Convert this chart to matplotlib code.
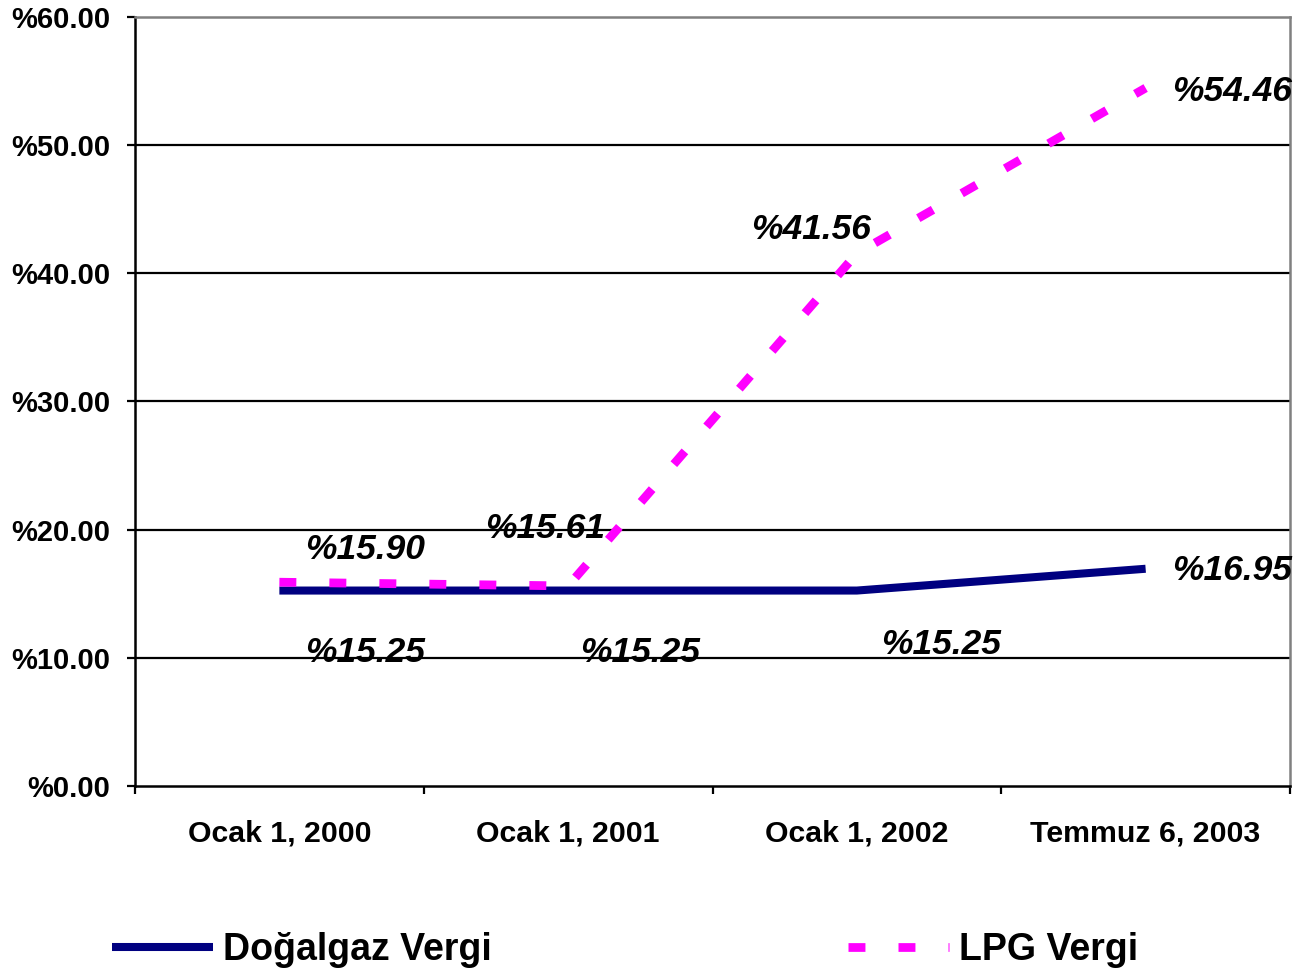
import matplotlib
matplotlib.use("Agg")
import matplotlib.pyplot as plt
from matplotlib.ticker import FixedLocator, NullFormatter, FixedFormatter

plt.rcParams['font.family'] = ['Liberation Sans', 'DejaVu Sans']
plt.rcParams['lines.scale_dashes'] = False

categories = ["Ocak 1, 2000", "Ocak 1, 2001", "Ocak 1, 2002", "Temmuz 6, 2003"]
dogalgaz = [15.25, 15.25, 15.25, 16.95]
lpg = [15.90, 15.61, 41.56, 54.46]
y_ticks = [0, 10, 20, 30, 40, 50, 60]
y_tick_labels = ["%0.00", "%10.00", "%20.00", "%30.00", "%40.00", "%50.00", "%60.00"]
series_names = ["Doğalgaz Vergi", "LPG Vergi"]

# label offsets in pixels (style only)
dog_offsets = [(86, -62), (72, -62), (84, -54), (86, -2)]
lpg_offsets = [(86, 33), (-23, 57), (-46, 24), (86, -3)]

DPI = 100
fig = plt.figure(figsize=(12.97, 9.71), dpi=DPI)
W, H = 1297, 971
ax = fig.add_axes([135 / W, (H - 786) / H, (1290 - 135) / W, (786 - 17) / H])

x = list(range(len(categories)))
navy = "#000080"
magenta = "#FF00FF"

l1, = ax.plot(x, dogalgaz, color=navy, lw=5.8, solid_capstyle='butt', zorder=3,
              label=series_names[0])
l2, = ax.plot(x, lpg, color=magenta, lw=6.3, dashes=(12.2, 23.8), dash_capstyle='butt',
              zorder=4, label=series_names[1])

ax.set_xlim(-0.5, len(categories) - 0.5)
ax.set_ylim(0, 60)

# grid
for yv in y_ticks[1:-1]:
    ax.axhline(yv, color='black', lw=1.6, zorder=1)

ax.yaxis.set_major_locator(FixedLocator(y_ticks))
ax.yaxis.set_major_formatter(FixedFormatter(y_tick_labels))
ax.tick_params(axis='y', direction='out', length=6, width=1.6, pad=12,
               labelsize=21)
for t in ax.get_yticklabels():
    t.set_fontweight('bold')

ax.xaxis.set_major_locator(FixedLocator([i - 0.5 for i in range(len(categories) + 1)]))
ax.xaxis.set_major_formatter(NullFormatter())
ax.xaxis.set_minor_locator(FixedLocator(x))
ax.xaxis.set_minor_formatter(FixedFormatter(categories))
ax.tick_params(axis='x', which='major', direction='out', length=6, width=1.6)
ax.tick_params(axis='x', which='minor', length=0, pad=24, labelsize=21.8)
for t in ax.get_xticklabels(minor=True):
    t.set_fontweight('bold')

for s in ['left', 'bottom']:
    ax.spines[s].set_color('black')
    ax.spines[s].set_linewidth(1.8)
for s in ['top', 'right']:
    ax.spines[s].set_color('#808080')
    ax.spines[s].set_linewidth(1.8)

def px2pt(v):
    return v * 72.0 / DPI

for xi, v, off in zip(x, dogalgaz, dog_offsets):
    ax.annotate("%" + f"{v:.2f}", (xi, v), xytext=(px2pt(off[0]), px2pt(off[1])),
                textcoords='offset points', ha='center', va='center',
                fontsize=25.5, fontweight='bold', fontstyle='italic', zorder=5)
for xi, v, off in zip(x, lpg, lpg_offsets):
    ax.annotate("%" + f"{v:.2f}", (xi, v), xytext=(px2pt(off[0]), px2pt(off[1])),
                textcoords='offset points', ha='center', va='center',
                fontsize=25.5, fontweight='bold', fontstyle='italic', zorder=5)

leg = fig.legend(handles=[l1, l2], labels=series_names, loc='center left',
                 bbox_to_anchor=(112 / W, (H - 950) / H), ncol=2, frameon=False,
                 borderpad=0, borderaxespad=0, handlelength=2.69, handletextpad=0.27,
                 columnspacing=9.5, prop={'weight': 'bold', 'size': 27})

fig.savefig("out.png", dpi=DPI)
